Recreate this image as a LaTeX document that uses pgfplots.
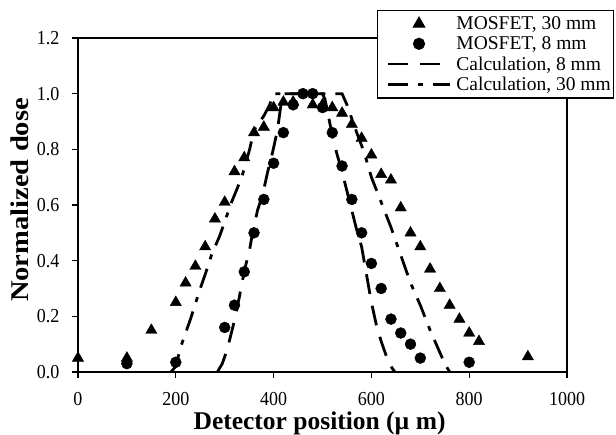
\documentclass[border=0pt]{standalone}
\usepackage{pgfplots}
\pgfplotsset{compat=1.18}
\usepackage{fontspec}
\setmainfont{Liberation Serif}
\pgfplotsset{
  markleg/.style={legend image code/.code={\path (0pt,0pt) (73pt,0pt); \draw[##1] plot coordinates {(39pt,0pt)};}},
  lineleg/.style={legend image code/.code={\path (0pt,0pt) (73pt,0pt); \draw[##1] (8pt,0pt) -- (70pt,0pt);}},
}
\begin{document}
\begin{tikzpicture}
\path[use as bounding box] (0,0) rectangle (616pt,435pt);
\begin{axis}[
  at={(78pt,63pt)}, anchor=south west,
  scale only axis, width=489pt, height=334pt,
  xmin=0, xmax=1000, ymin=0, ymax=1.2,
  clip=false,
  xtick={0,200,400,600,800,1000},
  ytick={0,0.2,0.4,0.6,0.8,1.0,1.2},
  tick align=outside, xtick pos=bottom, ytick pos=left,
  major tick length=6pt,
  axis line style={line width=1.6pt},
  every tick/.style={black, line width=1.2pt},
  /pgf/number format/assume math mode=true,
  yticklabel style={/pgf/number format/fixed, /pgf/number format/precision=1, /pgf/number format/fixed zerofill, font=\fontsize{18}{18}\selectfont, xshift=-9pt, yscale=1.1},
  xticklabel style={/pgf/number format/1000 sep={}, font=\fontsize{18}{18}\selectfont, yshift=-10pt, yscale=1.1},
  xlabel={Detector position (µ m)},
  ylabel={Normalized dose},
  xlabel style={font=\fontsize{25.5}{25.5}\selectfont\bfseries, at={(axis description cs:0.494,-0.172)}, anchor=base},
  ylabel style={font=\fontsize{25.5}{25.5}\selectfont\bfseries, at={(axis description cs:-0.119,0.515)}, anchor=center, xscale=1.12},
  legend style={at={(axis description cs:0.6115,1.0838)}, anchor=north west, draw=black, line width=1.2pt, fill=white,
    font=\fontsize{19.5}{19.5}\selectfont, inner xsep=1pt, inner ysep=4pt, row sep=1.5pt},
  legend cell align=left,
]
\addplot[only marks, mark=triangle*, mark size=6.5pt, black, markleg]
coordinates {
(0,0.05) (100,0.05) (150,0.15) (200,0.25) (220,0.32) (240,0.38) (260,0.45) (280,0.55) (300,0.61) (320,0.72) (340,0.77) (360,0.86) (380,0.88) (400,0.95) (420,0.97) (440,0.97) (480,0.96) (500,0.96) (520,0.95) (540,0.93) (560,0.89) (580,0.84) (600,0.78) (620,0.71) (640,0.69) (660,0.59) (680,0.50) (700,0.45) (720,0.37) (740,0.30) (760,0.24) (780,0.19) (800,0.14) (820,0.11) (920,0.055)
};
\addlegendentry{MOSFET, 30 mm}
\addplot[only marks, mark=*, mark size=5.5pt, black, markleg]
coordinates {
(100,0.03) (200,0.035) (300,0.16) (320,0.24) (340,0.36) (360,0.50) (380,0.62) (400,0.75) (420,0.86) (440,0.96) (460,1.00) (480,1.00) (500,0.95) (520,0.86) (540,0.74) (560,0.62) (580,0.50) (600,0.39) (620,0.30) (640,0.19) (660,0.14) (680,0.10) (700,0.05) (800,0.035)
};
\addlegendentry{MOSFET, 8 mm}
\addplot[black, line width=2.8pt, dash pattern=on 20pt off 12pt, lineleg]
coordinates {
(285,0) (295,0.03) (305,0.08) (315,0.15) (322,0.20) (330,0.27) (341,0.37) (351,0.44) (355,0.48) (367,0.58) (378,0.64) (388,0.72) (398,0.79) (408,0.87) (415,0.96) (420,1.0) (500,1.0) (505,0.98) (512,0.92) (520,0.85) (530,0.78) (540,0.72) (550,0.65) (560,0.58) (570,0.51) (580,0.45) (590,0.35) (600,0.25) (610,0.17) (620,0.11) (630,0.06) (640,0.02) (648,0)
};
\addlegendentry{Calculation, 8 mm}
\addplot[black, line width=2.8pt, dash pattern=on 20pt off 10pt on 5pt off 10pt, lineleg]
coordinates {
(190,0) (200,0.02) (210,0.09) (230,0.19) (250,0.30) (260,0.35) (273,0.42) (290,0.49) (302,0.55) (314,0.61) (335,0.70) (351,0.80) (360,0.87) (380,0.92) (392,0.96) (400,1.0) (540,1.0) (550,0.96) (570,0.86) (585,0.79) (600,0.70) (620,0.61) (640,0.52) (660,0.42) (680,0.32) (700,0.24) (720,0.15) (735,0.09) (750,0.03) (760,0)
};
\addlegendentry{Calculation, 30 mm}
\end{axis}
\end{tikzpicture}
\end{document}
